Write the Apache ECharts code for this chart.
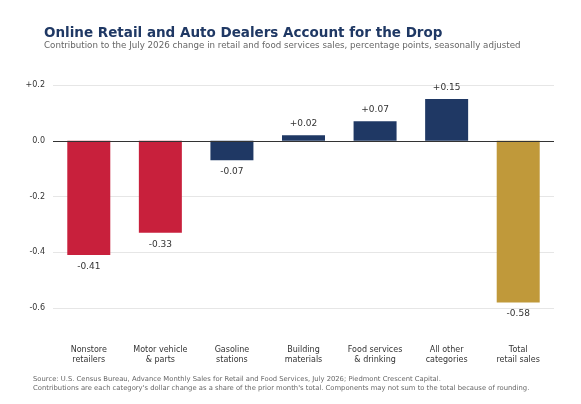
<!DOCTYPE html><html><head><meta charset="utf-8"><script src="https://cdn.jsdelivr.net/npm/echarts@6/dist/echarts.min.js"></script>
<style>html,body{margin:0;padding:0;background:#fff}#c{width:581px;height:404px}</style></head><body><div id="c"></div><script>
const categories=["Nonstore\nretailers","Motor vehicle\n& parts","Gasoline\nstations","Building\nmaterials","Food services\n& drinking","All other\ncategories","Total\nretail sales"];
const values=[-0.41,-0.33,-0.07,0.02,0.07,0.15,-0.58];
const colors=["#C8203C","#C8203C","#1F3864","#1F3864","#1F3864","#1F3864","#C0993A"];
const ch=echarts.init(document.getElementById('c'));
const fmt=v=>(v>0?'+':'')+v.toFixed(2);
ch.setOption({
 animation:false,
 title:[{text:'Online Retail and Auto Dealers Account for the Drop',left:39,top:21,textStyle:{fontFamily:'DejaVu Sans',fontSize:13.5,fontWeight:'bold',color:'#1F3864'}},
  {text:'Contribution to the July 2026 change in retail and food services sales, percentage points, seasonally adjusted',left:39,top:36,textStyle:{fontFamily:'DejaVu Sans',fontSize:8.7,fontWeight:'normal',color:'#666'}},
  {text:'Source: U.S. Census Bureau, Advance Monthly Sales for Retail and Food Services, July 2026; Piedmont Crescent Capital.\nContributions are each category\'s dollar change as a share of the prior month\'s total. Components may not sum to the total because of rounding.',left:28,top:370,textStyle:{fontFamily:'DejaVu Sans',fontSize:6.8,fontWeight:'normal',color:'#666',lineHeight:9}}],
 grid:{left:53,right:27,top:85,bottom:96},
 xAxis:{type:'category',data:categories,axisLine:{show:false,onZero:false},axisTick:{show:false},
  axisLabel:{margin:37,fontFamily:'DejaVu Sans',fontSize:8,color:'#333',lineHeight:10,interval:0}},
 yAxis:{type:'value',min:-0.6,max:0.2,interval:0.2,
  axisLabel:{formatter:v=>{v=Math.round(v*10)/10;return (v>0?'+':'')+v.toFixed(1);},fontFamily:'DejaVu Sans',fontSize:8,color:'#333'},
  splitLine:{lineStyle:{color:'#e6e6e6'}}},
 series:[{type:'bar',barWidth:43,data:values.map((v,i)=>({value:v,itemStyle:{color:colors[i]},label:{position:v>=0?'top':'bottom'}})),
  label:{show:true,formatter:p=>fmt(p.value),fontFamily:'DejaVu Sans',fontSize:9,color:'#333',distance:7},
  markLine:{silent:true,symbol:'none',label:{show:false},lineStyle:{color:'#333',width:1,type:'solid'},data:[{yAxis:0}]}}]
});
</script></body></html>
